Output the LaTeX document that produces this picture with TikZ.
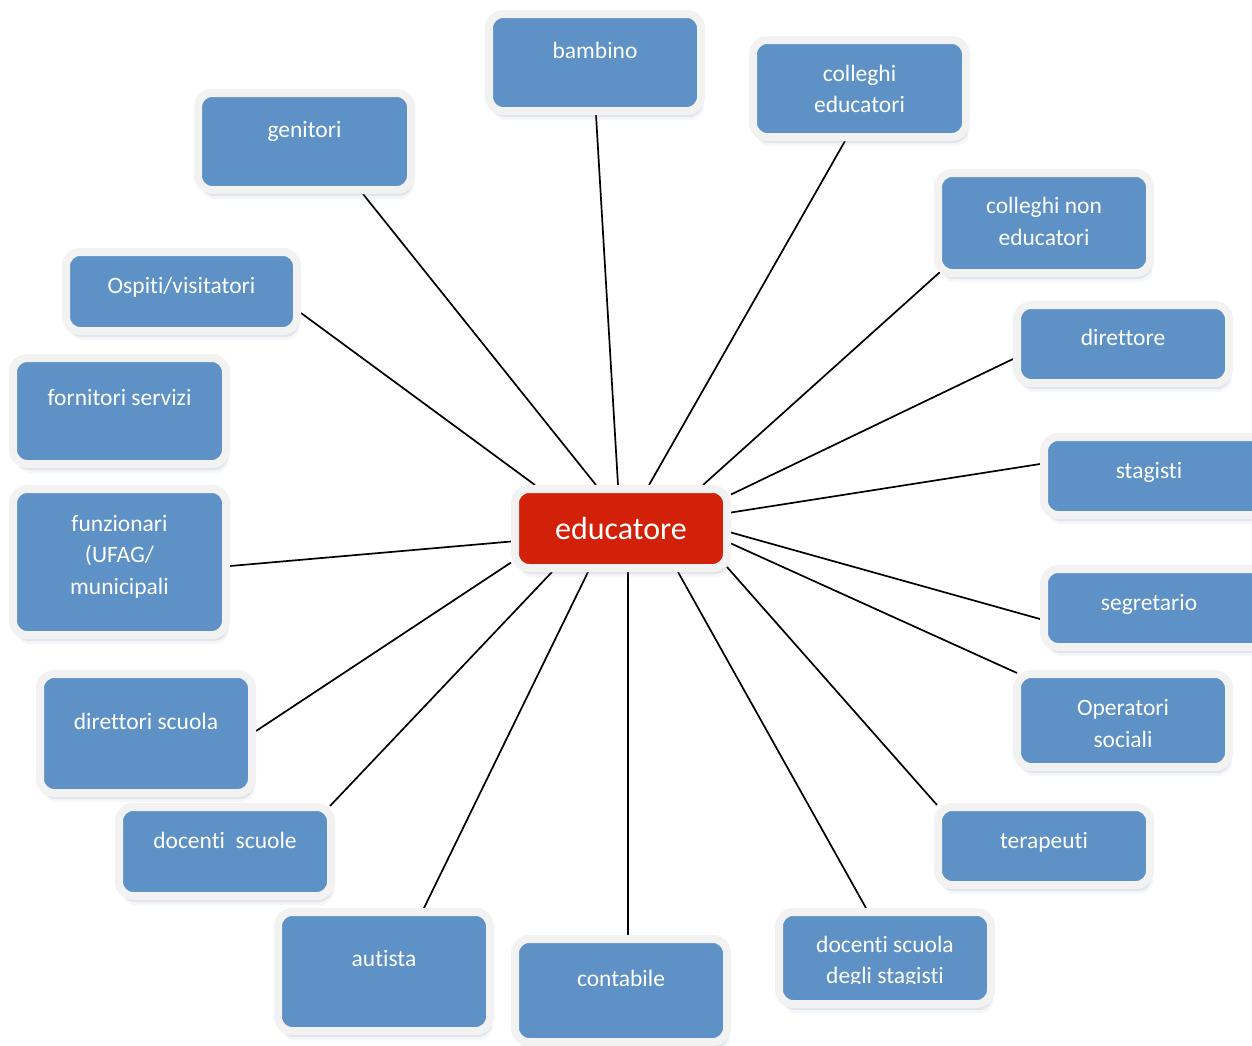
\documentclass[tikz,border=0pt]{standalone}
\usepackage{fontspec}
\setmainfont{Carlito}[Ligatures=NoCommon]
\usetikzlibrary{shadows,backgrounds}
\definecolor{boxblue}{RGB}{94,146,199}
\definecolor{boxgray}{RGB}{242,242,242}
\definecolor{boxred}{RGB}{210,33,8}
\definecolor{shadowc}{RGB}{120,140,170}
\newcommand{\pbox}[6][]{\node[pb,#1, minimum width={#5-#3+8}, minimum height={#6-#4+8}] (#2) at ({(#3+#5)/2},{(#4+#6)/2}) {};}
\begin{document}
\begin{tikzpicture}[x=1pt,y=-1pt,
  pb/.style={draw=boxgray, line width=8pt, fill=boxblue, rounded corners=14pt, inner sep=0pt,
     drop shadow={shadow xshift=2pt, shadow yshift=-6pt, opacity=0.16, fill=shadowc},
     drop shadow={shadow xshift=3pt, shadow yshift=-9pt, opacity=0.08, fill=shadowc}},
  lbl/.style={text=white, font=\fontsize{23.5}{31.5}\selectfont, align=center, anchor=base, inner sep=0pt},
  conn/.style={draw=black, line width=1.7pt}]
\useasboundingbox (0,0) rectangle (1252,1045);
\clip (0,0) rectangle (1252,1045);
% boxes
\pbox{bam}{493}{18}{697}{107}
\pbox{cedu}{757}{44}{962}{133}
\pbox{gen}{202}{97}{407}{186}
\pbox{cnon}{942}{177}{1146}{269}
\pbox{osp}{70}{256}{293}{327}
\pbox{dir}{1021}{309}{1225}{379}
\pbox{forn}{17}{362}{222}{460}
\pbox{stag}{1048}{441}{1264}{511}
\pbox{fun}{17}{493}{222}{631}
\pbox[fill=boxred]{edu}{519}{493}{723}{564}
\pbox{segr}{1048}{573}{1264}{643}
\pbox{dirs}{44}{678}{248}{789}
\pbox{op}{1021}{678}{1225}{763}
\pbox{dsc}{123}{811}{327}{892}
\pbox{ter}{942}{811}{1146}{881}
\pbox{aut}{282}{916}{486}{1027}
\pbox{cont}{519}{943}{723}{1038}
\pbox{dstag}{783}{916}{987}{1000}
% labels (anchor base = baseline of the last line)
\node[lbl] (bam-t) at (595,58) {bambino};
\node[lbl] (cedu-t) at (859.5,112.5) {colleghi\\educatori};
\node[lbl] (gen-t) at (304.5,137) {genitori};
\node[lbl] (cnon-t) at (1044,245) {colleghi non\\educatori};
\node[lbl] (osp-t) at (181.5,293) {Ospiti/visitatori};
\node[lbl] (dir-t) at (1123,345) {direttore};
\node[lbl] (forn-t) at (119.5,405.5) {fornitori servizi};
\node[lbl] (stag-t) at (1149,478) {stagisti};
\node[lbl] (fun-t) at (119.5,594) {funzionari\\(UFAG/\\municipali};
\node[text=white, font=\fontsize{32}{38}\selectfont, anchor=base, inner sep=0pt] (edu-t) at (621,539) {educatore};
\node[lbl] (segr-t) at (1149,610) {segretario};
\node[lbl] (dirs-t) at (146,729) {direttori scuola};
\node[lbl] (op-t) at (1123,747) {Operatori\\sociali};
\node[lbl] (dsc-t) at (225,848) {docenti\ \ scuole};
\node[lbl] (ter-t) at (1044,848) {terapeuti};
\node[lbl] (aut-t) at (384,966) {autista};
\node[lbl] (cont-t) at (621,986) {contabile};
\begin{scope}
\clip (775,900) rectangle (1000,983.5);
\node[lbl] (dstag-t) at (885,983.5) {docenti scuola\\degli stagisti};
\end{scope}
% connectors
\begin{pgfonlayer}{background}
\draw[conn] ([xshift=-3pt]edu.north) -- ([xshift=1pt]bam.south);
\draw[conn] ([xshift=-25pt]edu.north) -- ([xshift=58.5pt]gen.south);
\draw[conn] ([xshift=-86pt]edu.north) -- ([yshift=-21.5pt]osp.east);
\draw[conn] ([xshift=28pt]edu.north) -- ([xshift=-14.5pt]cedu.south);
\draw[conn] ([xshift=82pt]edu.north) -- ([xshift=6pt,yshift=5pt]cnon.south west);
\draw[conn] ([yshift=34pt]edu.east) -- ([yshift=-15pt]dir.west);
\draw[conn] ([yshift=16pt]edu.east) -- ([yshift=12pt]stag.west);
\draw[conn] ([yshift=-4pt]edu.east) -- ([yshift=-11pt]segr.west);
\draw[conn] ([yshift=-15pt]edu.east) -- ([xshift=4pt,yshift=-3pt]op.north west);
\draw[conn] ([xshift=-4pt,yshift=5pt]edu.south east) -- ([xshift=3pt,yshift=-2pt]ter.north west);
\draw[conn] ([xshift=57pt]edu.south) -- ([xshift=-19pt]dstag.north);
\draw[conn] ([xshift=7pt]edu.south) -- ([xshift=7pt]cont.north);
\draw[conn] ([xshift=-33pt]edu.south) -- ([xshift=40pt]aut.north);
\draw[conn] ([xshift=-69pt]edu.south) -- ([xshift=-5pt,yshift=-3pt]dsc.north east);
\draw[conn] ([yshift=-34pt]edu.west) -- ([yshift=2.5pt]dirs.east);
\draw[conn] ([yshift=-13pt]edu.west) -- ([yshift=-4pt]fun.east);
\end{pgfonlayer}
\end{tikzpicture}
\end{document}
